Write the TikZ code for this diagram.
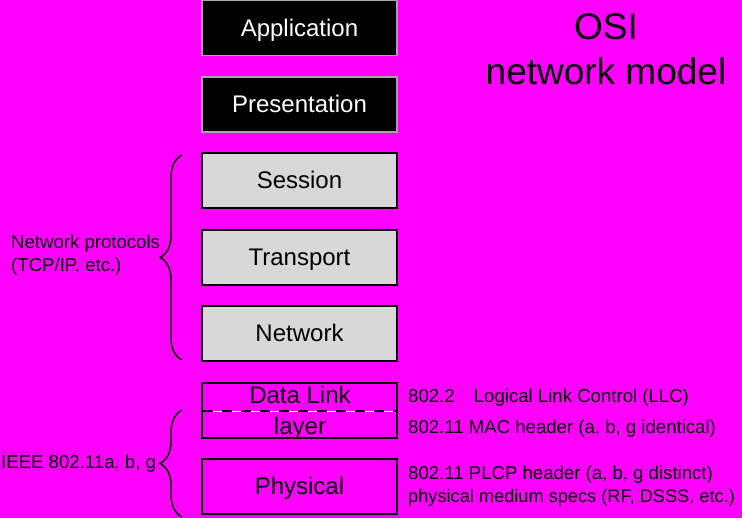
\documentclass[tikz,border=0pt]{standalone}
\usepackage{fontspec}
\setmainfont{Liberation Sans}
\usetikzlibrary{decorations.pathreplacing}
\definecolor{bg}{HTML}{FF00FF}
\definecolor{boxgray}{HTML}{D8D8D8}
\begin{document}
\begin{tikzpicture}[x=1pt,y=-1pt,
  layer/.style={draw=black, line width=1.5pt, minimum width=195pt, minimum height=55pt, inner sep=0pt, text height=17pt, text depth=0pt, font=\fontsize{24}{28}\selectfont},
  dark/.style={layer, fill=black, draw=gray!70, text=white},
  light/.style={layer, fill=boxgray},
  clear/.style={layer},
  boxtext/.style={inner sep=0pt, text height=17pt, text depth=0pt, font=\fontsize{24}{28}\selectfont},
  small/.style={inner sep=0pt, font=\fontsize{18.6}{23}\selectfont, anchor=west, align=left},
  bracestyle/.style={decorate, decoration={brace, amplitude=22pt, aspect=0.5}, line width=1.5pt}
]
\fill[bg] (0,0) rectangle (742,518);
\useasboundingbox (0,0) rectangle (742,518);

\node[dark] (app) at (299.5,28) {Application};
\node[dark] (pres) at (299.5,104.5) {Presentation};
\node[light] (sess) at (299.5,180.5) {Session};
\node[light] (trans) at (299.5,257.5) {Transport};
\node[light] (net) at (299.5,333.5) {Network};
\node[clear] (dl) at (299.5,410.5) {};
\node[clear] (phys) at (299.5,486.5) {Physical};

\node[boxtext] (dltext) at (300,395) {Data Link};
\node[boxtext] (layertext) at (300,426) {layer};

\coordinate (dashL) at (202.75,411.5);
\coordinate (dashR) at (396.25,411.5);
\draw[white, line width=0.5pt] (dashL) -- (dashR);
\draw[black, line width=2pt, dash pattern=on 10pt off 9pt] (dashL) -- (dashR);

\node[inner sep=0pt, align=center, font=\fontsize{37}{45}\selectfont] (osi) at (606,49.5) {OSI\\network model};

\coordinate (b1bot) at (182,360);
\coordinate (b1top) at (182,155);
\draw[bracestyle] (b1bot) -- (b1top);
\coordinate (b2bot) at (182,517);
\coordinate (b2top) at (182,410);
\draw[bracestyle] (b2bot) -- (b2top);

\node[small] (netproto) at (11,255) {Network protocols\\(TCP/IP, etc.)};
\node[small] (ieee) at (1,464) {IEEE 802.11a, b, g};

\node[small] (llc) at (408,398) {802.2\hspace{14pt} Logical Link Control (LLC)};
\node[small] (mac) at (408,429) {802.11 MAC header (a, b, g identical)};
\node[small] (plcp) at (408,475) {802.11 PLCP header (a, b, g distinct)};
\node[small, font=\fontsize{18.2}{23}\selectfont] (phy) at (408,498) {physical medium specs (RF, DSSS, etc.)};
\end{tikzpicture}
\end{document}
